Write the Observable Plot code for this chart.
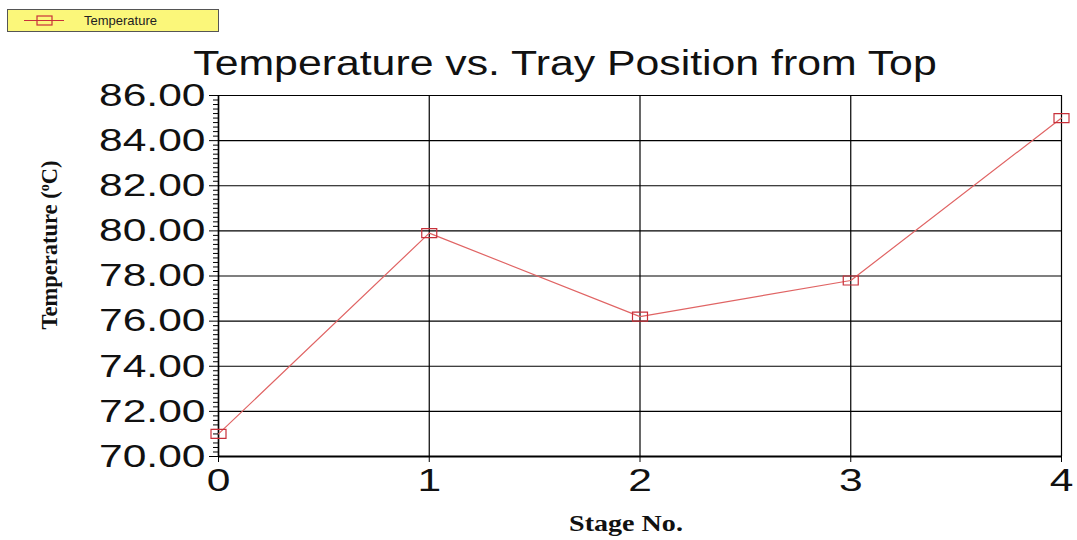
<!DOCTYPE html>
<html>
<head>
<meta charset="utf-8">
<script src="https://cdn.jsdelivr.net/npm/d3@7"></script>
<script src="https://cdn.jsdelivr.net/npm/@observablehq/plot@0.6"></script>
<style>
  html, body { margin: 0; padding: 0; background: #fff; }
  #wrap { position: relative; width: 1077px; height: 540px; overflow: hidden; }
  #legend { position: absolute; left: 7px; top: 9px; width: 210px; height: 21px; background: #fbf77a; border: 1px solid #555; font-family: Arial, "Liberation Sans", sans-serif; font-size: 13px; color: #222; }
  #legend svg { position: absolute; left: 0; top: 0; }
  #legend span { position: absolute; left: 76px; top: 3px; }
  #title { position: absolute; left: 565px; top: 43px; transform: translateX(-50%) scaleX(1.24); white-space: nowrap; font-family: Arial, "Liberation Sans", sans-serif; font-size: 34.5px; color: #111; line-height: 40px; }
  #chart { position: absolute; left: 0; top: 0; }
</style>
</head>
<body>
<div id="wrap">
  <div id="chart"></div>
  <div id="title">Temperature vs. Tray Position from Top</div>
  <div id="legend">
    <svg width="70" height="21"><line x1="16" x2="56" y1="10.5" y2="10.5" stroke="#c8303a" stroke-width="1"/><rect x="29" y="6" width="15" height="9" fill="none" stroke="#c8303a" stroke-width="1.2"/></svg>
    <span>Temperature</span>
  </div>
</div>
<script>
const stages = [0, 1, 2, 3, 4];
const temperatures = [71.0, 79.9, 76.2, 77.8, 85.0];
const yTicks = [70, 72, 74, 76, 78, 80, 82, 84, 86];
const xTicks = [0, 1, 2, 3, 4];
const seriesName = "Temperature";

const data = stages.map((s, i) => ({stage: s, temp: temperatures[i], series: seriesName}));
const minorTicks = d3.range(0, 81).map(i => 70 + i * 0.2).filter(v => Math.abs(v / 2 - Math.round(v / 2)) > 1e-6);

const rectSymbol = { draw(ctx) { ctx.rect(-7.5, -4.5, 15, 9); } };

const chart = Plot.plot({
  width: 1077,
  height: 540,
  marginLeft: 218,
  marginRight: 16,
  marginTop: 95,
  marginBottom: 84,
  style: { fontFamily: "Arial, 'Liberation Sans', sans-serif", color: "#111", background: "transparent" },
  x: { domain: [0, 4] },
  y: { domain: [70, 86] },
  marks: [
    Plot.gridX(xTicks, { stroke: "#000", strokeOpacity: 1, strokeWidth: 1.2 }),
    Plot.gridY(yTicks, { stroke: "#000", strokeOpacity: 1, strokeWidth: 1.2 }),
    Plot.ruleY([70], { stroke: "#000", strokeWidth: 2 }),
    Plot.ruleX([0], { stroke: "#000", strokeWidth: 1.5 }),
    Plot.axisY(minorTicks, { tickSize: 5, tickFormat: () => "", label: null, stroke: "#000" }),
    Plot.axisY(yTicks, { tickSize: 9, tickPadding: 4, tickFormat: d => d.toFixed(2), fontSize: 32, label: null, stroke: "#000", fill: "#111" }),
    Plot.axisX(xTicks, { tickSize: 6, tickPadding: 6, tickFormat: d => String(d), fontSize: 32, label: null, stroke: "#000", fill: "#111" }),
    Plot.line(data, { x: "stage", y: "temp", stroke: "#e06464", strokeWidth: 1.2 }),
    Plot.dot(data, { x: "stage", y: "temp", symbol: rectSymbol, r: 5, stroke: "#c8303a", strokeWidth: 1.2, fill: "none" })
  ]
});

document.getElementById("chart").appendChild(chart);

// stretch tick labels horizontally (as in reference)
const svg = d3.select(chart);
svg.selectAll("g[aria-label='y-axis tick label'] text, g[aria-label='x-axis tick label'] text").each(function() {
  const t = this.getAttribute("transform") || "";
  this.setAttribute("transform", t + " scale(1.33,1)");
});

// axis labels
const yl = svg.append("text")
  .attr("transform", "translate(57,245) rotate(-90)")
  .attr("text-anchor", "middle")
  .attr("font-family", "'Liberation Serif', 'Times New Roman', serif")
  .attr("font-weight", "bold")
  .attr("font-size", 22.5)
  .attr("fill", "#111");
yl.append("tspan").text("Temperature (");
yl.append("tspan").attr("font-size", 14).attr("dy", -8).text("o");
yl.append("tspan").attr("dy", 8).text("C)");

svg.append("text")
  .attr("x", 626)
  .attr("y", 531)
  .attr("text-anchor", "middle")
  .attr("font-family", "'Liberation Serif', 'Times New Roman', serif")
  .attr("font-weight", "bold")
  .attr("font-size", 24)
  .attr("transform", "translate(626,0) scale(1.17,1) translate(-626,0)")
  .attr("fill", "#111")
  .text("Stage No.");
</script>
</body>
</html>
